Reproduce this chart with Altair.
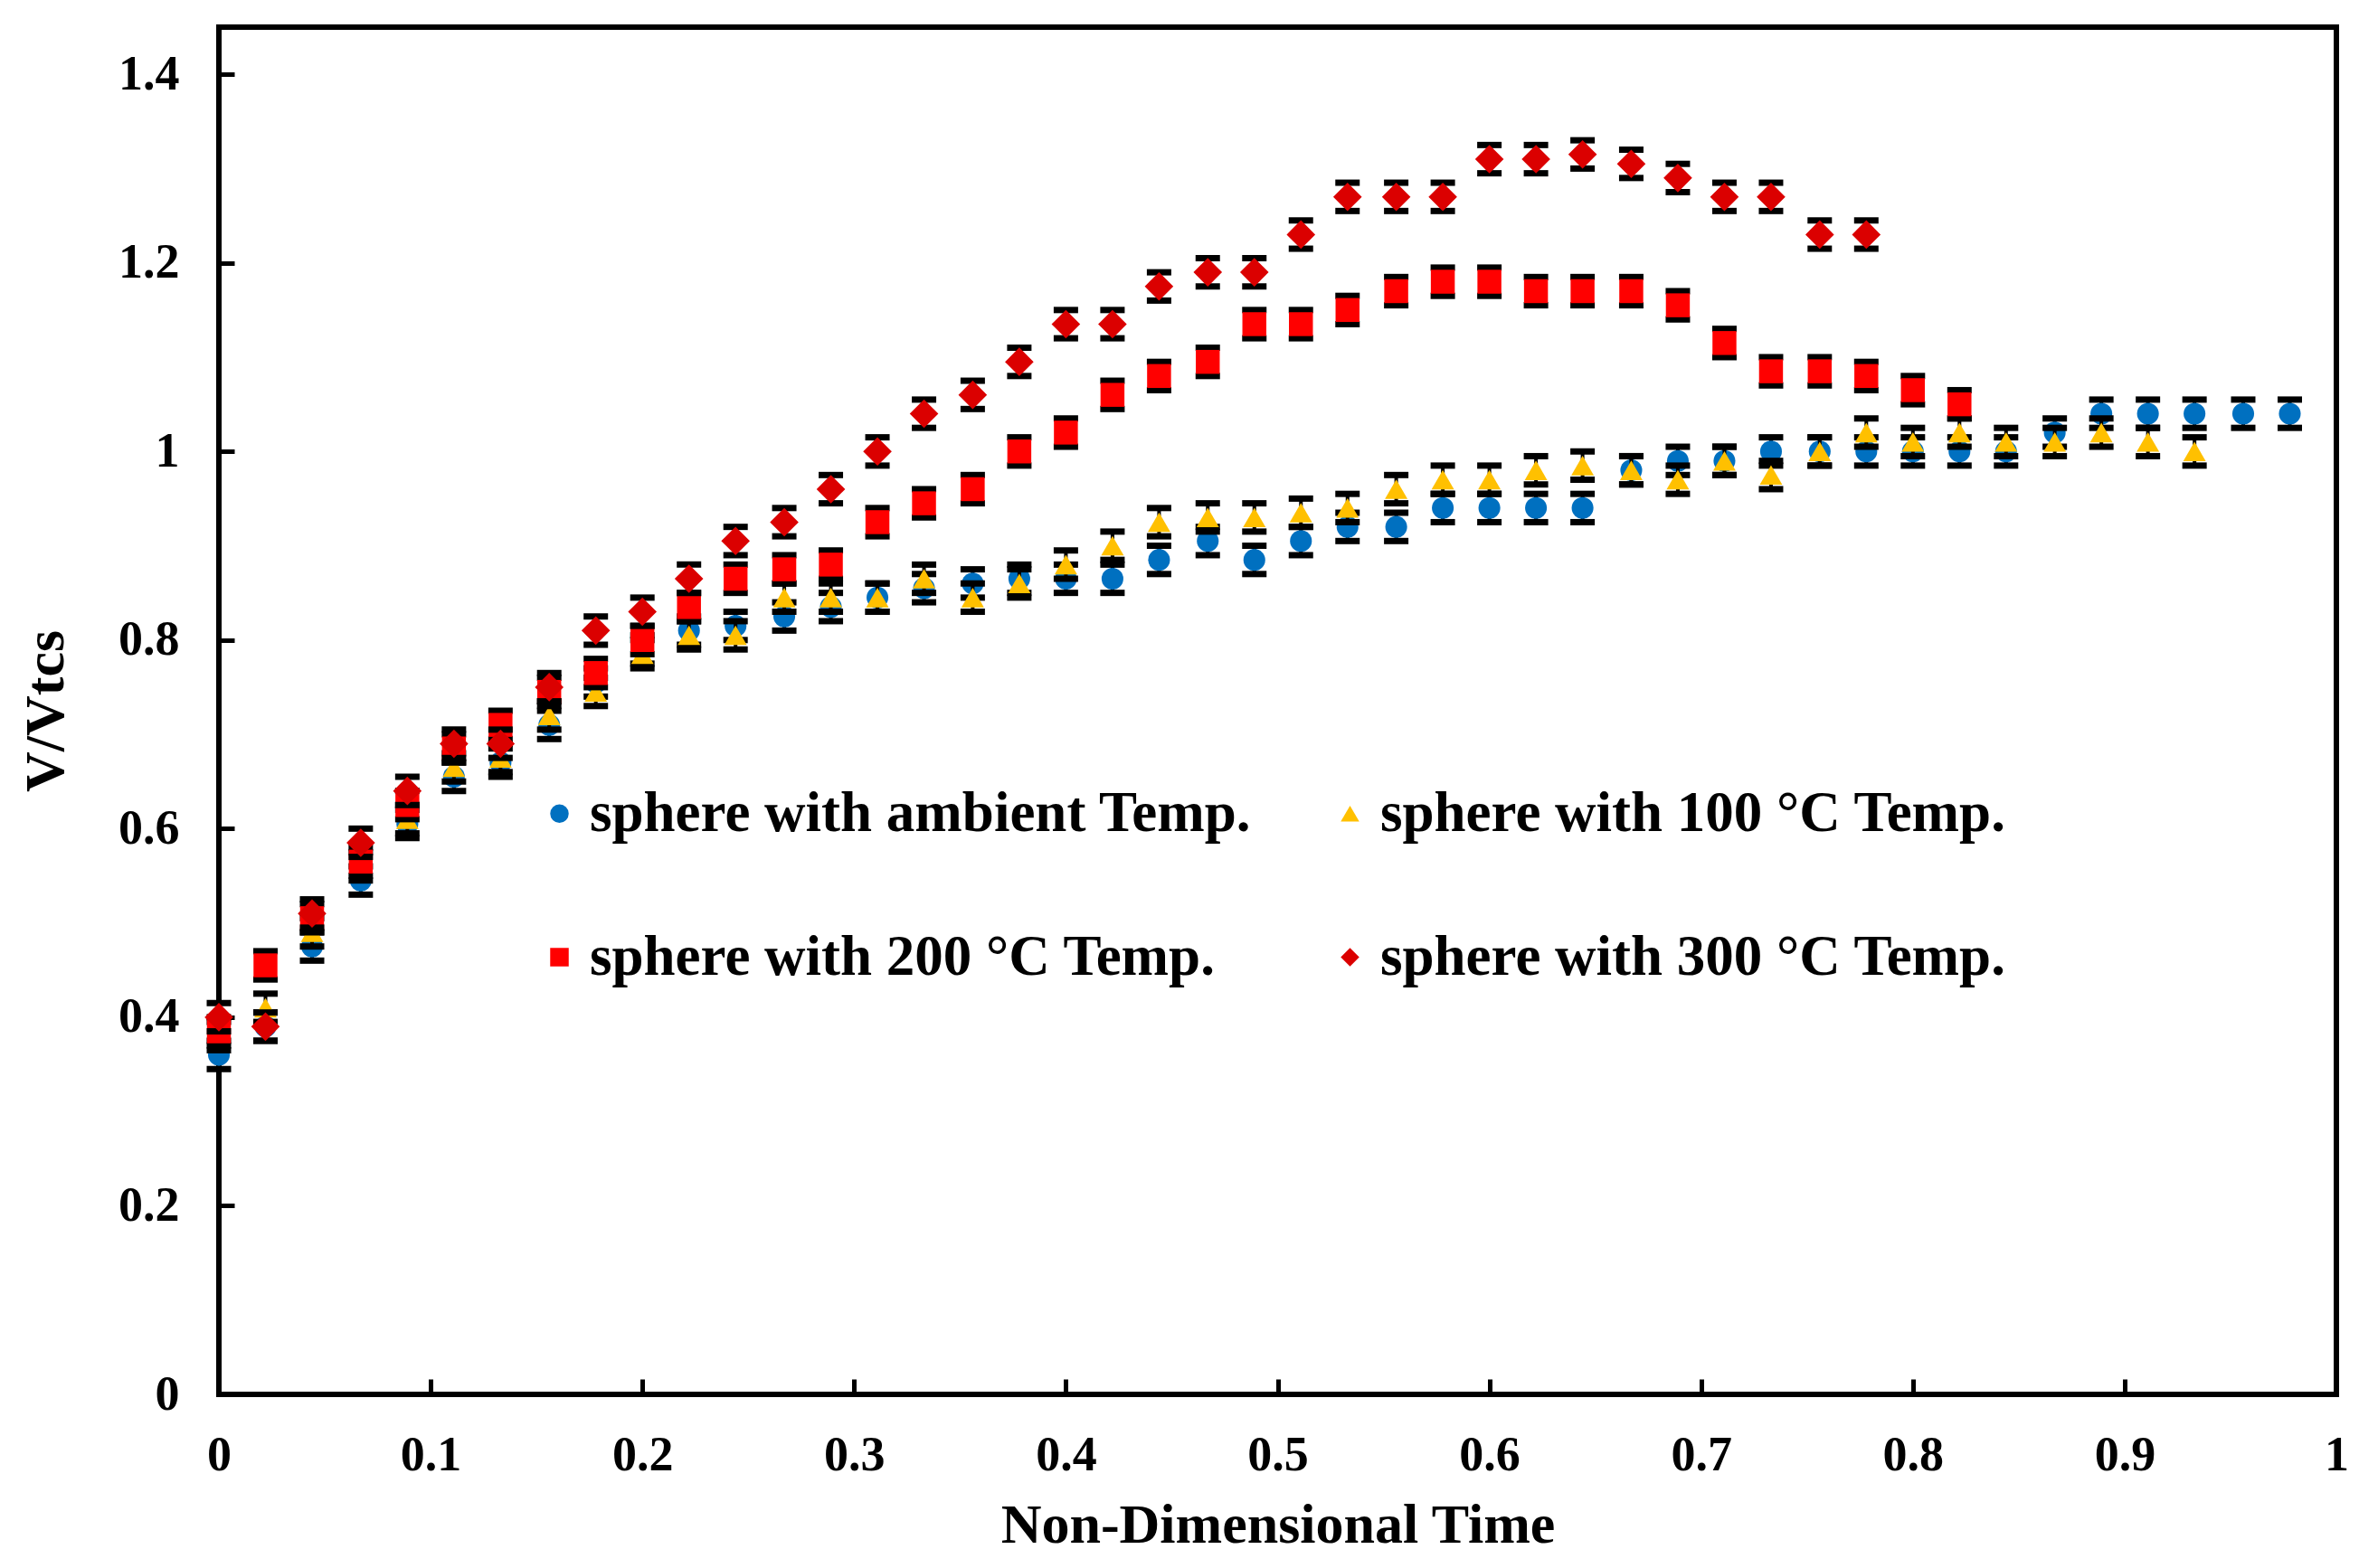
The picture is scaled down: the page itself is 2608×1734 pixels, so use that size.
import altair as alt
import pandas as pd

# series names, marker shapes and colours
SERIES = ['sphere with ambient Temp.', 'sphere with 100 °C Temp.',
          'sphere with 200 °C Temp.', 'sphere with 300 °C Temp.']
SHAPES = ['circle', 'triangle-up', 'square', 'diamond']
COLORS = ['#0070C0', '#FFC000', '#FF0000', '#DB0000']
SIZES = [580, 620, 700, 1000]

# non-dimensional time of each sample
TIME = [0, 0.022, 0.044, 0.067, 0.089, 0.111, 0.133, 0.156, 0.178, 0.2,
        0.222, 0.244, 0.267, 0.289, 0.311, 0.333, 0.356, 0.378, 0.4, 0.422,
        0.444, 0.467, 0.489, 0.511, 0.533, 0.556, 0.578, 0.6, 0.622, 0.644,
        0.667, 0.689, 0.711, 0.733, 0.756, 0.778, 0.8, 0.822, 0.844, 0.867,
        0.889, 0.911, 0.933, 0.956, 0.978]

AMBIENT = [0.36, 0.39, 0.475, 0.545, 0.605, 0.655, 0.67, 0.71, 0.755, 0.79,
           0.81, 0.815, 0.825, 0.835, 0.845, 0.855, 0.86, 0.865, 0.865, 0.865,
           0.885, 0.905, 0.885, 0.905, 0.92, 0.92, 0.94, 0.94, 0.94, 0.94,
           0.98, 0.99, 0.99, 1.0, 1.0, 1.0, 1.0, 1.0, 1.0, 1.02,
           1.04, 1.04, 1.04, 1.04, 1.04]
T100 = [0.38, 0.41, 0.49, 0.56, 0.61, 0.665, 0.675, 0.72, 0.745, 0.785,
        0.805, 0.805, 0.845, 0.845, 0.845, 0.865, 0.845, 0.86, 0.88, 0.9,
        0.925, 0.93, 0.93, 0.935, 0.94, 0.96, 0.97, 0.97, 0.98, 0.985,
        0.98, 0.97, 0.99, 0.975, 1.0, 1.02, 1.01, 1.02, 1.01, 1.01,
        1.02, 1.01, 1.0]
T200 = [0.385, 0.455, 0.505, 0.565, 0.625, 0.685, 0.71, 0.745, 0.765, 0.8,
        0.835, 0.865, 0.875, 0.88, 0.925, 0.945, 0.96, 1.0, 1.02, 1.06,
        1.08, 1.095, 1.135, 1.135, 1.15, 1.17, 1.18, 1.18, 1.17, 1.17,
        1.17, 1.155, 1.115, 1.085, 1.085, 1.08, 1.065, 1.05]
T300 = [0.4, 0.39, 0.51, 0.585, 0.64, 0.69, 0.69, 0.75, 0.81, 0.83,
        0.865, 0.905, 0.925, 0.96, 1.0, 1.04, 1.06, 1.095, 1.135, 1.135,
        1.175, 1.19, 1.19, 1.23, 1.27, 1.27, 1.27, 1.31, 1.31, 1.315,
        1.305, 1.29, 1.27, 1.27, 1.23, 1.23]

ERR = 0.015

X_TICKS = [0, 0.1, 0.2, 0.3, 0.4, 0.5, 0.6, 0.7, 0.8, 0.9, 1]
Y_TICKS = [0, 0.2, 0.4, 0.6, 0.8, 1, 1.2, 1.4]

rows = []
for name, vals in zip(SERIES, [AMBIENT, T100, T200, T300]):
    for t, v in zip(TIME, vals):
        rows.append({'series': name, 't': t, 'v': v, 'lo': v - ERR, 'hi': v + ERR})
df = pd.DataFrame(rows)

x_enc = alt.X('t:Q', scale=alt.Scale(domain=[0, 1], nice=False),
              axis=alt.Axis(values=X_TICKS, format='~g', labelPadding=40,
                            labelFlush=False, titlePadding=20),
              title='Non-Dimensional Time')
y_scale = alt.Scale(domain=[0, 1.45], nice=False)
y_axis = alt.Axis(values=Y_TICKS, format='~g', labelPadding=44, titlePadding=48)

layers = []
for name, size in zip(SERIES, SIZES):
    base = alt.Chart(df).transform_filter(alt.datum.series == name)
    bar = base.mark_rule(color='black', strokeWidth=4).encode(
        x=x_enc, y=alt.Y('lo:Q', scale=y_scale, axis=y_axis, title='V/Vtcs'), y2='hi:Q')
    cap_lo = base.mark_tick(color='black', opacity=1, orient='horizontal',
                            thickness=7, size=27).encode(x='t:Q', y='lo:Q')
    cap_hi = base.mark_tick(color='black', opacity=1, orient='horizontal',
                            thickness=7, size=27).encode(x='t:Q', y='hi:Q')
    pts = base.mark_point(filled=True, opacity=1, size=size).encode(
        x='t:Q',
        y='v:Q',
        color=alt.Color('series:N', scale=alt.Scale(domain=SERIES, range=COLORS),
                        sort=SERIES, title=None),
        shape=alt.Shape('series:N', scale=alt.Scale(domain=SERIES, range=SHAPES),
                        sort=SERIES, title=None),
    )
    layers += [bar, cap_lo, cap_hi, pts]

chart = alt.layer(*layers).properties(
    width=2341,
    height=1512,
    autosize=alt.AutoSizeParams(type='none'),
    padding={'left': 234, 'top': 22, 'right': 15, 'bottom': 180},
).configure_view(
    stroke='black', strokeWidth=6
).configure_axis(
    domain=False, grid=False, ticks=True, tickColor='black', tickWidth=5,
    tickSize=17, offset=-17,
    labelFont='Liberation Serif', labelFontWeight='bold', labelFontSize=54,
    labelColor='black',
    titleFont='Liberation Serif', titleFontWeight='bold', titleFontSize=62,
    titleColor='black'
).configure_legend(
    orient='none', legendX=345, legendY=838, columns=2, direction='horizontal',
    labelFont='Liberation Serif', labelFontWeight='bold', labelFontSize=63,
    labelColor='black', labelLimit=0, symbolSize=420, symbolStrokeWidth=0,
    labelOffset=2, columnPadding=77, rowPadding=95
)

chart.save("out.html", embed_options={"renderer": "svg", "actions": False})
